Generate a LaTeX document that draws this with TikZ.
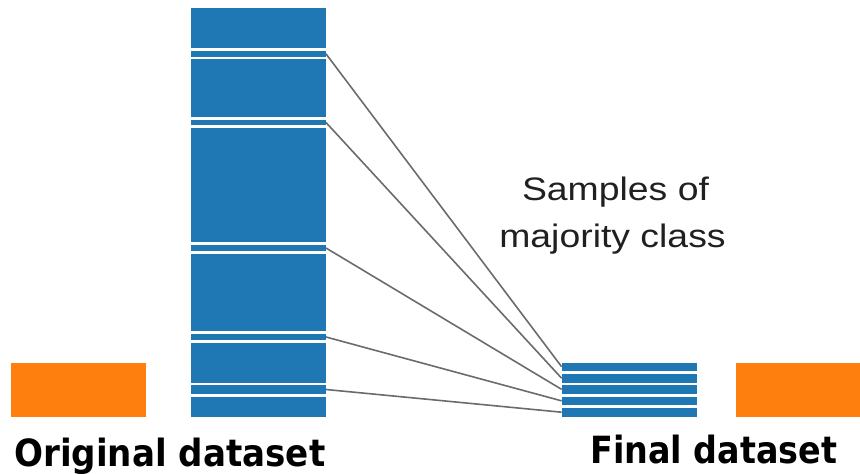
\documentclass[tikz,border=0pt]{standalone}
\usepackage{fontspec}
\setmainfont{Liberation Sans}
\newfontfamily\headfont{DejaVu Sans}
\definecolor{barblue}{HTML}{1F77B4}
\definecolor{barorange}{HTML}{FF7F0E}
\definecolor{linkgray}{HTML}{6B6B6B}
\definecolor{captiontext}{HTML}{202020}

\begin{document}
\begin{tikzpicture}[x=1pt,y=-1pt,
  cell/.style={rectangle, fill=barblue, draw=none, inner sep=0pt, outer sep=0pt,
               minimum width=135.5pt, minimum height=#1},
  minor/.style={rectangle, fill=barorange, draw=none, inner sep=0pt, outer sep=0pt,
                minimum height=54pt, minimum width=#1},
  link/.style={draw=linkgray, line width=1.6pt},
  caption/.style={inner sep=0pt, text=captiontext, font=\fontsize{32.5}{39}\selectfont},
  heading/.style={inner sep=0pt, text=black, font=\headfont\bfseries\fontsize{37.5}{45}\selectfont}]

\useasboundingbox (0,0) rectangle (860,474);

% original dataset: majority-class column, picked samples as thin bands
\node[cell=40.3pt]  (c1) at (258.25,28.15)  {};
\node[cell=5.7pt]   (b1) at (258.25,53.85)  {};
\node[cell=57.4pt]  (c2) at (258.25,88)     {};
\node[cell=5pt]     (b2) at (258.25,122.5)  {};
\node[cell=114pt]   (c3) at (258.25,185)    {};
\node[cell=6pt]     (b3) at (258.25,248)    {};
\node[cell=77pt]    (c4) at (258.25,292.5)  {};
\node[cell=6pt]     (b4) at (258.25,337)    {};
\node[cell=39.5pt]  (c5) at (258.25,362.75) {};
\node[cell=9pt]     (b5) at (258.25,389.5)  {};
\node[cell=19.7pt]  (c6) at (258.25,406.85) {};

% minority class blocks
\node[minor=135.5pt] (oleft)  at (78.25,389.7) {};
\node[minor=125pt]   (oright) at (798.5,389.7) {};

% final dataset: the kept majority samples
\node[cell=8pt]   (r1) at (629.35,366.7)  {};
\node[cell=9pt]   (r2) at (629.35,378.2)  {};
\node[cell=8.7pt] (r3) at (629.35,389.35) {};
\node[cell=8.3pt] (r4) at (629.35,400.85) {};
\node[cell=9pt]   (r5) at (629.35,412.2)  {};

% sample links
\draw[link] (b1.east) -- (r1.west);
\draw[link] (b2.east) -- (r2.west);
\draw[link] (b3.east) -- (r3.west);
\draw[link] (b4.east) -- (r4.west);
\draw[link] (b5.east) -- (r5.west);

% labels
\node[caption, anchor=base] (cap1) at (615.5,200)   {\scalebox{1.15}[1]{Samples of}};
\node[caption, anchor=base] (cap2) at (612.5,247.3) {\scalebox{1.15}[1]{majority class}};
\node[heading, anchor=base west] (orig) at (14,466.5) {\scalebox{0.91}[1]{Original dataset}};
\node[heading, anchor=base west] (fin)  at (590,463)  {\scalebox{0.89}[1]{Final dataset}};

\end{tikzpicture}
\end{document}
